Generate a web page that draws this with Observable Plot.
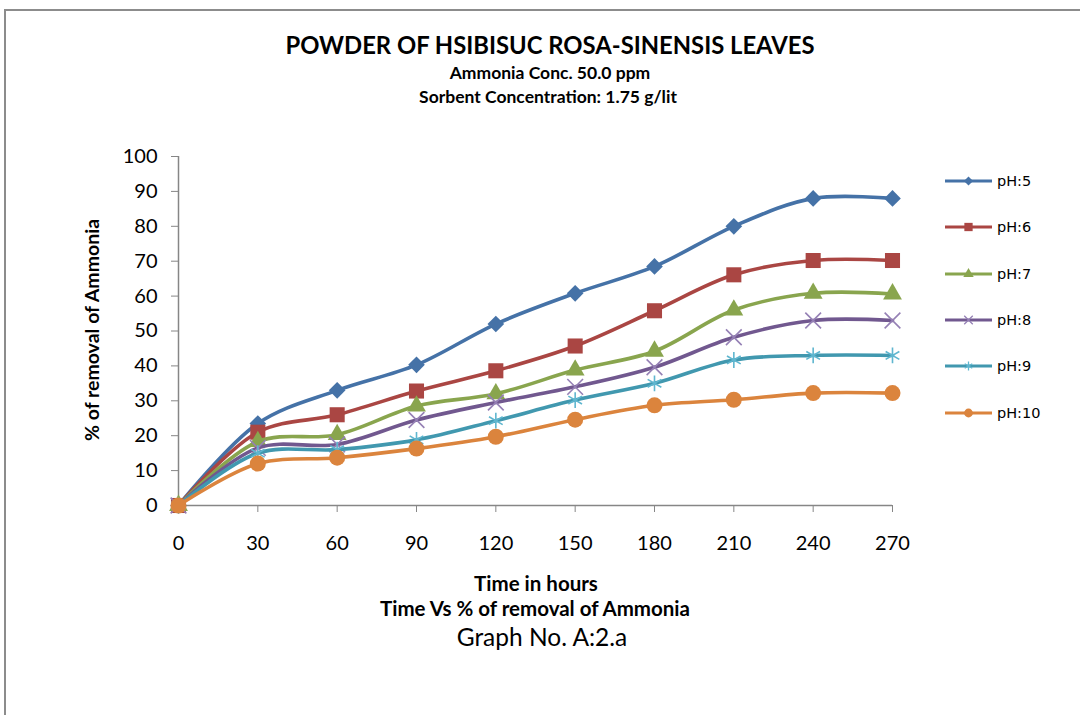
<!DOCTYPE html>
<html>
<head>
<meta charset="utf-8">
<script src="https://cdn.jsdelivr.net/npm/d3@7"></script>
<script src="https://cdn.jsdelivr.net/npm/@observablehq/plot@0.6"></script>
<style>
html, body { margin: 0; padding: 0; background: #fff; }
#wrap { position: relative; width: 1080px; height: 715px; overflow: hidden; font-family: Lato, "Open Sans", sans-serif; color: #000; background: #fff; }
#chart { position: absolute; left: 0; top: 0; }
.frame { position: absolute; left: 4px; top: 9px; width: 1200px; height: 800px; border-left: 2px solid #8c8c8c; border-top: 2px solid #8c8c8c; }
.t { position: absolute; text-align: center; line-height: 1; white-space: nowrap; }
#ylab { position: absolute; left: 92px; top: 330px; transform: translate(-50%, -50%) rotate(-90deg); white-space: nowrap; font-weight: bold; font-size: 19.5px; line-height: 1; }
#legend { position: absolute; left: 945px; top: 158px; font-family: "DejaVu Sans", sans-serif; font-size: 14.5px; }
.lrow { height: 46.3px; display: flex; align-items: center; }
.lrow svg { display: block; margin-right: 5px; }
</style>
</head>
<body>
<div id="wrap">
  <div id="chart"></div>
  <div class="frame"></div>
  <div class="t" style="left:250px;width:600px;top:34px;font-size:23.8px;font-weight:bold;">POWDER OF HSIBISUC ROSA-SINENSIS LEAVES</div>
  <div class="t" style="left:250px;width:600px;top:64px;font-size:17.5px;font-weight:bold;">Ammonia Conc. 50.0 ppm</div>
  <div class="t" style="left:248px;width:600px;top:88px;font-size:17.5px;font-weight:bold;">Sorbent Concentration: 1.75 g/lit</div>
  <div id="ylab">% of removal of Ammonia</div>
  <div class="t" style="left:236px;width:600px;top:573px;font-size:20.5px;font-weight:bold;">Time in hours</div>
  <div class="t" style="left:235px;width:600px;top:598px;font-size:20.5px;font-weight:bold;">Time Vs % of removal of Ammonia</div>
  <div class="t" style="left:242px;width:600px;top:625px;font-size:24.5px;">Graph No. A:2.a</div>
  <div id="legend"></div>
</div>
<script>
// ---- data ----
const times = [0, 30, 60, 90, 120, 150, 180, 210, 240, 270];
const seriesNames = ["pH:5", "pH:6", "pH:7", "pH:8", "pH:9", "pH:10"];
const pH5  = [0, 23.5, 33.0, 40.3, 52.0, 60.8, 68.5, 80.0, 88.0, 88.0];
const pH6  = [0, 21.0, 26.0, 32.8, 38.6, 45.7, 55.8, 66.1, 70.2, 70.2];
const pH7  = [0, 18.3, 20.3, 28.5, 32.0, 38.8, 44.2, 56.0, 60.8, 60.6];
const pH8  = [0, 16.5, 17.5, 24.5, 29.5, 34.0, 39.6, 48.2, 53.0, 53.0];
const pH9  = [0, 15.0, 16.0, 18.8, 24.3, 30.2, 35.0, 41.7, 43.0, 43.0];
const pH10 = [0, 12.0, 13.7, 16.3, 19.7, 24.6, 28.7, 30.3, 32.2, 32.2];
const yTicks = [0, 10, 20, 30, 40, 50, 60, 70, 80, 90, 100];

// ---- styles ----
const seriesValues = [pH5, pH6, pH7, pH8, pH9, pH10];
const lineColors = ["#4572A7", "#AA4643", "#89A54E", "#71588F", "#4198AF", "#DB843D"];
const markColors = ["#4572A7", "#AA4643", "#89A54E", "#9580b5", "#5fb6cf", "#DB843D"];
const symbols = ["diamond2", "square", "triangle", "times", "asterisk", "circle"];
const filled = [true, true, true, false, false, true];
const radii = [7.5, 8.5, 7, 7.2, 7.5, 8];

const rows = seriesNames.map((s, i) => times.map((t, j) => ({series: s, t, v: seriesValues[i][j]})));

const marks = [
  Plot.axisY({ticks: yTicks, tickSize: 7, tickPadding: 14, stroke: "#868686", fill: "#000", label: null}),
  Plot.axisX({ticks: times, tickSize: 7, tickPadding: 23, stroke: "#868686", fill: "#000", label: null}),
  Plot.ruleX([0], {stroke: "#868686", strokeWidth: 1.5}),
  Plot.ruleY([0], {stroke: "#868686", strokeWidth: 1.5})
];
rows.forEach((data, i) => {
  marks.push(Plot.line(data, {x: "t", y: "v", stroke: lineColors[i], strokeWidth: 3.6, curve: "catmull-rom"}));
  marks.push(Plot.dot(data, filled[i]
    ? {x: "t", y: "v", symbol: () => symbols[i], r: radii[i], fill: markColors[i], stroke: "none"}
    : {x: "t", y: "v", symbol: () => symbols[i], r: radii[i], fill: "none", stroke: markColors[i], strokeWidth: 1.6}));
});

const chart = Plot.plot({
  width: 1080,
  height: 715,
  marginTop: 156,
  marginBottom: 210,
  marginLeft: 178,
  marginRight: 188,
  style: {fontFamily: "Lato, sans-serif", fontSize: "20px", color: "#000", background: "transparent"},
  x: {domain: [0, 270]},
  y: {domain: [0, 100]},
  symbol: {type: "identity"},
  marks
});
document.getElementById("chart").appendChild(chart);

// ---- legend ----
const legend = d3.select("#legend");
const symMap = {diamond2: d3.symbolDiamond2, square: d3.symbolSquare, triangle: d3.symbolTriangle,
                times: d3.symbolTimes, asterisk: d3.symbolAsterisk, circle: d3.symbolCircle};
seriesNames.forEach((name, i) => {
  const row = legend.append("div").attr("class", "lrow");
  const svg = row.append("svg").attr("width", 47).attr("height", 16);
  svg.append("line").attr("x1", 0).attr("x2", 47).attr("y1", 8).attr("y2", 8)
    .attr("stroke", lineColors[i]).attr("stroke-width", 3);
  const rr = radii[i] * 0.55;
  const p = svg.append("path").attr("transform", "translate(23.5,8)")
    .attr("d", d3.symbol(symMap[symbols[i]], rr * rr * Math.PI)());
  if (filled[i]) p.attr("fill", markColors[i]);
  else p.attr("fill", "none").attr("stroke", markColors[i]).attr("stroke-width", 1.3);
  row.append("span").text(name);
});
</script>
</body>
</html>
